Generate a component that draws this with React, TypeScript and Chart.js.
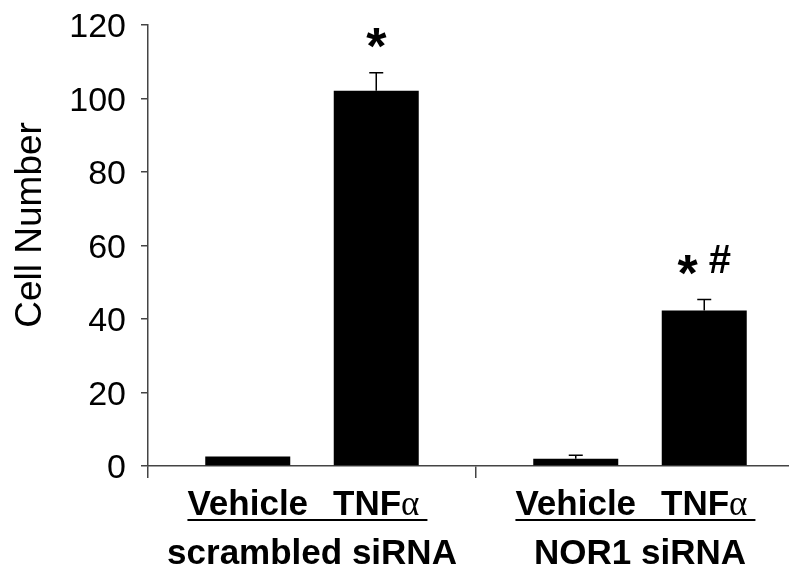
import React, { useEffect, useRef } from "react";
import { Chart, registerables } from "chart.js";

Chart.register(...registerables);

const SANS = "'Liberation Sans', Arial, Helvetica, sans-serif";
const SERIF = "'Liberation Serif', 'Times New Roman', serif";

// ---- data ----
const categories = ["scrambled siRNA", "NOR1 siRNA"];
const treatmentLabels = ["Vehicle", "TNFα"];
const vehicleValues = [2.6, 2.0];
const vehicleErrors = [0, 0.9];
const tnfValues = [102.1, 42.3];
const tnfErrors = [4.9, 3.0];
const tnfMarkers = ["*", "* #"];
const yMin = 0;
const yMax = 120;
const yStep = 20;
const yTitle = "Cell Number";

function drawTreatmentLabel(ctx: CanvasRenderingContext2D, text: string, cx: number, baseline: number) {
  const parts: { t: string; font: string }[] = [];
  const idx = text.indexOf("α");
  if (idx >= 0) {
    parts.push({ t: text.slice(0, idx), font: `bold 35px ${SANS}` });
    parts.push({ t: "α", font: `35px ${SERIF}` });
    if (idx + 1 < text.length) parts.push({ t: text.slice(idx + 1), font: `bold 35px ${SANS}` });
  } else {
    parts.push({ t: text, font: `bold 35px ${SANS}` });
  }
  let total = 0;
  const widths = parts.map((p) => {
    ctx.font = p.font;
    const w = ctx.measureText(p.t).width;
    total += w;
    return w;
  });
  let x = cx - total / 2;
  const left = x;
  ctx.textAlign = "left";
  ctx.textBaseline = "alphabetic";
  parts.forEach((p, i) => {
    ctx.font = p.font;
    ctx.fillText(p.t, x, baseline);
    x += widths[i];
  });
  return [left, x];
}

const labelPlugin = {
  id: "treatmentLabels",
  afterDraw(chart: any) {
    const ctx: CanvasRenderingContext2D = chart.ctx;
    const baseline = chart.chartArea.bottom + 49;
    ctx.save();
    ctx.fillStyle = "#000";
    ctx.strokeStyle = "#000";
    categories.forEach((_, ci) => {
      let minX = Infinity;
      let maxX = -Infinity;
      chart.data.datasets.forEach((ds: any, di: number) => {
        const bar = chart.getDatasetMeta(di).data[ci];
        const [l, r] = drawTreatmentLabel(ctx, ds.label, bar.x, baseline);
        minX = Math.min(minX, l);
        maxX = Math.max(maxX, r);
      });
      ctx.lineWidth = 2;
      ctx.beginPath();
      ctx.moveTo(minX, baseline + 5);
      ctx.lineTo(maxX + 8, baseline + 5);
      ctx.stroke();
    });

    // significance markers
    const yScale = chart.scales.y;
    chart.data.datasets.forEach((ds: any, di: number) => {
      if (!ds.markers) return;
      chart.getDatasetMeta(di).data.forEach((bar: any, i: number) => {
        const m: string = ds.markers[i];
        if (!m) return;
        const top = yScale.getPixelForValue(ds.data[i] + (ds.errors[i] || 0));
        const yc = top - 35;
        const starFont = `bold 52px ${SANS}`;
        const hashFont = `bold 40px ${SANS}`;
        const pieces = m.split("");
        let total = 0;
        const ws = pieces.map((p) => {
          ctx.font = p === "*" ? starFont : hashFont;
          const w = ctx.measureText(p).width;
          total += w;
          return w;
        });
        let x = bar.x - total / 2;
        ctx.textAlign = "left";
        ctx.textBaseline = "alphabetic";
        pieces.forEach((p, k) => {
          if (p === "*") {
            ctx.font = starFont;
            const mt = ctx.measureText(p);
            const asc = mt.actualBoundingBoxAscent;
            const desc = mt.actualBoundingBoxDescent;
            ctx.fillText(p, x, yc + (asc - desc) / 2);
          } else if (p !== " ") {
            ctx.font = hashFont;
            ctx.fillText(p, x, yc + 8);
          }
          x += ws[k];
        });
      });
    });
    ctx.restore();
  },
};

const errorBarPlugin = {
  id: "errorBars",
  afterDatasetsDraw(chart: any) {
    const ctx: CanvasRenderingContext2D = chart.ctx;
    const yScale = chart.scales.y;
    ctx.save();
    ctx.strokeStyle = "#000";
    ctx.lineWidth = 1.5;
    chart.data.datasets.forEach((ds: any, di: number) => {
      chart.getDatasetMeta(di).data.forEach((bar: any, i: number) => {
        const e = ds.errors[i];
        if (!e) return;
        const base = yScale.getPixelForValue(ds.data[i]);
        const top = yScale.getPixelForValue(ds.data[i] + e);
        ctx.beginPath();
        ctx.moveTo(bar.x, base);
        ctx.lineTo(bar.x, top);
        ctx.moveTo(bar.x - 7, top);
        ctx.lineTo(bar.x + 7, top);
        ctx.stroke();
      });
    });
    ctx.restore();
  },
};

export default function App() {
  const ref = useRef<HTMLCanvasElement | null>(null);
  useEffect(() => {
    if (!ref.current) return;
    const axisColor = "#444";
    const chart = new Chart(ref.current, {
      type: "bar",
      data: {
        labels: categories,
        datasets: [
          {
            label: treatmentLabels[0],
            data: vehicleValues,
            errors: vehicleErrors,
            backgroundColor: "#000",
            borderWidth: 0,
            categoryPercentage: 0.7835,
            barPercentage: 0.6615,
          } as any,
          {
            label: treatmentLabels[1],
            data: tnfValues,
            errors: tnfErrors,
            markers: tnfMarkers,
            backgroundColor: "#000",
            borderWidth: 0,
            categoryPercentage: 0.7835,
            barPercentage: 0.6615,
          } as any,
        ],
      },
      options: {
        animation: false,
        responsive: false,
        maintainAspectRatio: false,
        layout: { padding: { top: 25, right: 6, bottom: 0, left: 0 } },
        plugins: {
          legend: { display: false },
          tooltip: { enabled: false },
        },
        scales: {
          x: {
            type: "category",
            grid: {
              display: true,
              drawOnChartArea: false,
              drawTicks: true,
              tickLength: 12,
              color: axisColor,
              lineWidth: 1.5,
              offset: true,
            },
            border: { display: true, color: axisColor, width: 1.5 },
            ticks: {
              color: "#000",
              font: { family: SANS, size: 35, weight: "bold" },
              padding: 55,
              autoSkip: false,
              maxRotation: 0,
              minRotation: 0,
            },
            afterFit(scale: any) {
              scale.height = 105;
              scale.paddingLeft = 0;
              scale.paddingRight = 0;
            },
          },
          y: {
            min: yMin,
            max: yMax,
            grid: {
              display: true,
              drawOnChartArea: false,
              drawTicks: true,
              tickLength: 7,
              color: axisColor,
              lineWidth: 1.5,
            },
            border: { display: true, color: axisColor, width: 1.5 },
            ticks: {
              stepSize: yStep,
              color: "#000",
              font: { family: SANS, size: 34 },
              padding: 15,
              labelOffset: 3,
            },
            title: {
              display: true,
              text: "    " + yTitle,
              color: "#000",
              font: { family: SANS, size: 37 },
              padding: { top: 9, bottom: 0 },
            },
            afterFit(scale: any) {
              scale.width = 148;
              scale.paddingTop = 0;
              scale.paddingBottom = 0;
            },
          },
        },
      },
      plugins: [errorBarPlugin, labelPlugin],
    } as any);
    return () => chart.destroy();
  }, []);

  return (
    <div
      style={{
        position: "fixed",
        left: 0,
        top: 0,
        width: 789,
        height: 571,
        overflow: "hidden",
        background: "#fff",
      }}
    >
      <canvas ref={ref} width={810} height={571} style={{ display: "block" }} />
    </div>
  );
}
